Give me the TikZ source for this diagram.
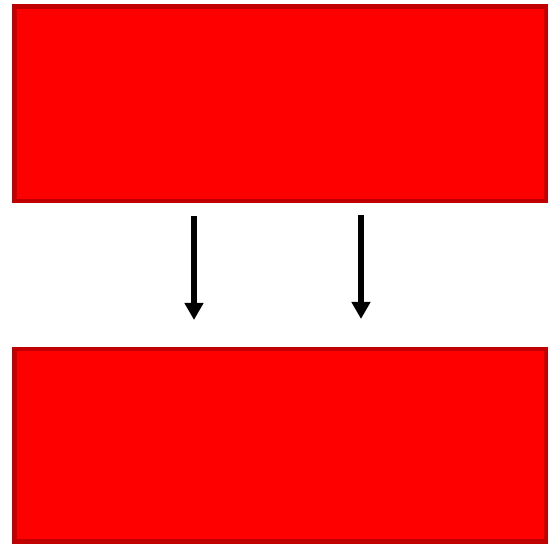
\documentclass[tikz,border=0pt]{standalone}
\usetikzlibrary{arrows.meta}
\definecolor{boxred}{HTML}{FF0000}
\definecolor{boxedge}{HTML}{C00000}
\begin{document}
\begin{tikzpicture}[x=1pt,y=-1pt,
  redbox/.style={draw=boxedge,fill=boxred,line width=4.5pt,rectangle,inner sep=0pt},
  downarrow/.style={line width=6pt,-{Triangle[length=17pt,width=18pt]}}]
\useasboundingbox (0,0) rectangle (552,548);
\node[redbox,minimum width=531.3pt,minimum height=194.3pt] (top) at (280.35,103.85) {};
\node[redbox,minimum width=531.3pt,minimum height=192.3pt] (bottom) at (280.35,445.15) {};
\coordinate (a1s) at (194,216);
\coordinate (a1e) at (194,320);
\coordinate (a2s) at (361,215);
\coordinate (a2e) at (361,319);
\draw[downarrow] (a1s) -- (a1e);
\draw[downarrow] (a2s) -- (a2e);
\end{tikzpicture}
\end{document}
